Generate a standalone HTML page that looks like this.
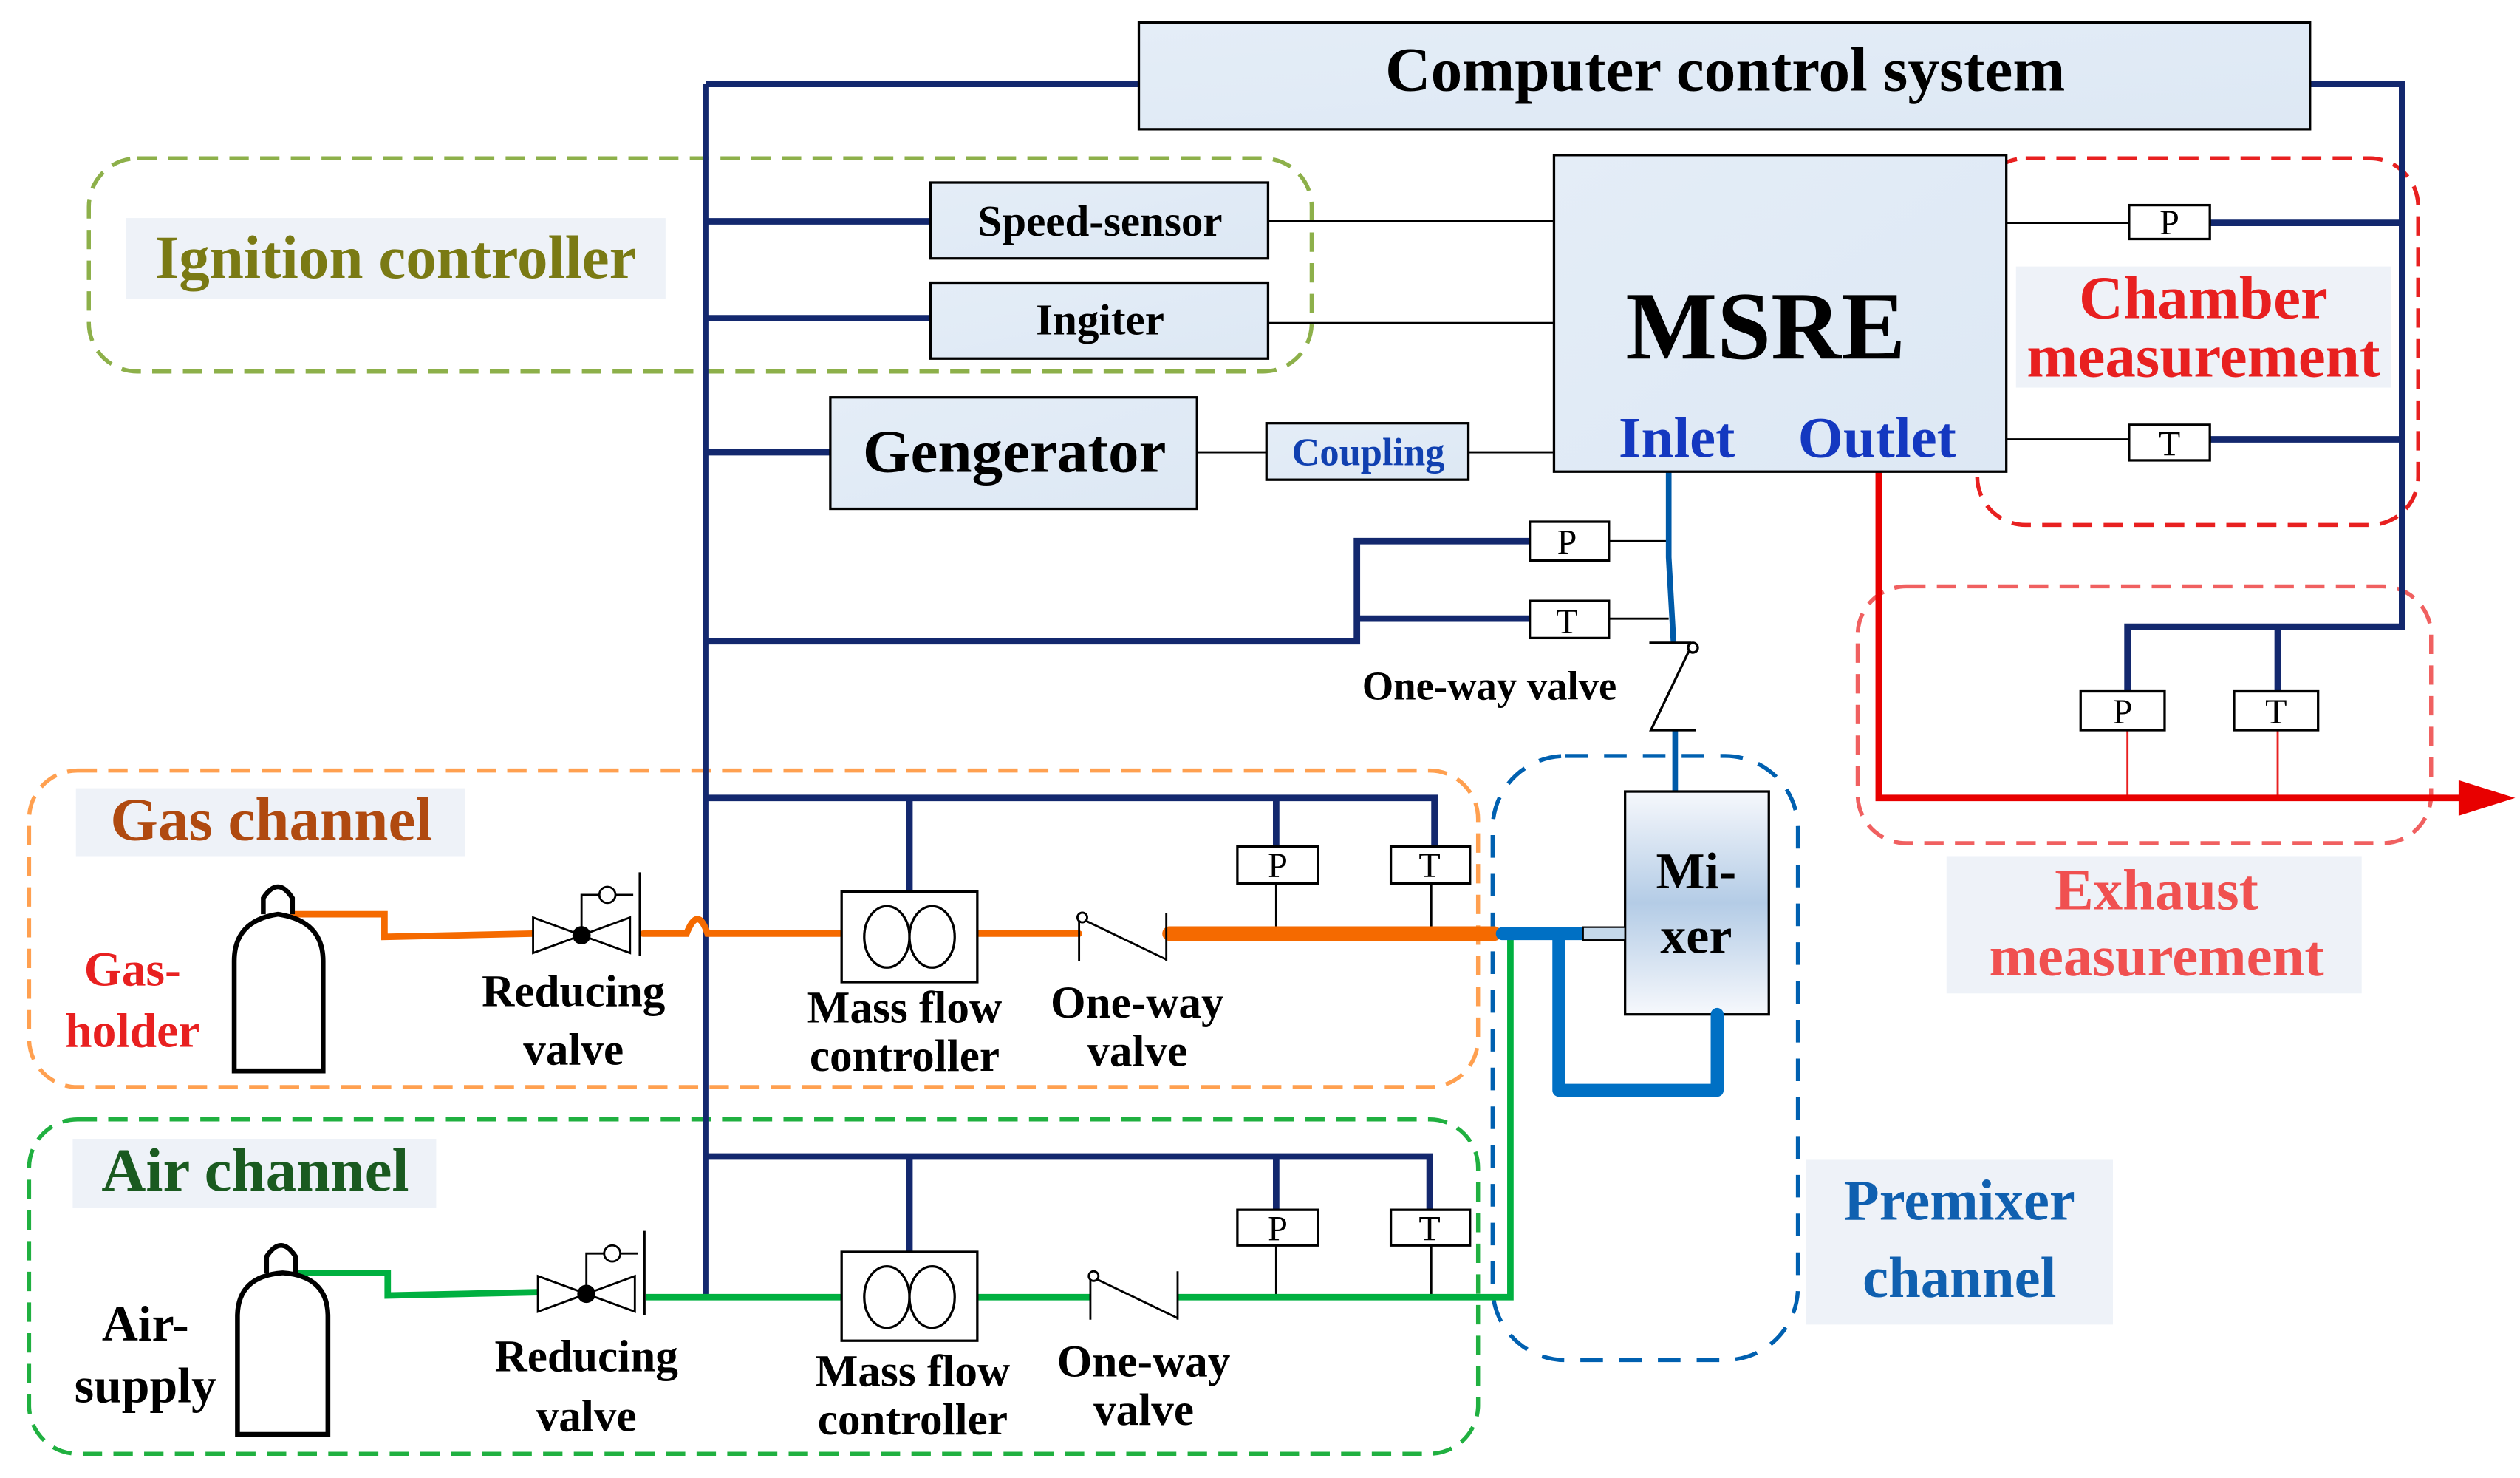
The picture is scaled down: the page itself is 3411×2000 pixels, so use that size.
<!DOCTYPE html>
<html><head><meta charset="utf-8"><style>
html,body{margin:0;padding:0;background:#fff;}
svg{display:block;}
text{font-family:"Liberation Serif",serif;font-weight:bold;}
</style></head><body>
<svg width="3411" height="2000" viewBox="0 0 1560 915" preserveAspectRatio="none" xmlns="http://www.w3.org/2000/svg">
<defs>
<linearGradient id="mx" x1="0" y1="0" x2="0" y2="1">
<stop offset="0" stop-color="#f6f8fc"/><stop offset="0.5" stop-color="#b4cce6"/><stop offset="1" stop-color="#f6f8fc"/>
</linearGradient>
<linearGradient id="bx" x1="0" y1="0" x2="1" y2="1">
<stop offset="0" stop-color="#e4edf7"/><stop offset="1" stop-color="#dde8f4"/>
</linearGradient>
</defs>
<g fill="none" stroke-linecap="butt">
<rect x="55" y="98" width="757" height="132" rx="30" stroke="#8db04a" stroke-width="2.5" stroke-dasharray="12,7"/>
<rect x="1224" y="98" width="273" height="227" rx="30" stroke="#e82020" stroke-width="2.5" stroke-dasharray="12,7"/>
<rect x="1150" y="363" width="355" height="159" rx="30" stroke="#f06060" stroke-width="2.5" stroke-dasharray="12,7"/>
<rect x="18" y="477" width="897" height="196" rx="30" stroke="#ffa050" stroke-width="2.5" stroke-dasharray="12,7"/>
<rect x="18" y="693" width="897" height="207" rx="30" stroke="#20b040" stroke-width="2.5" stroke-dasharray="12,7"/>
<rect x="924" y="468" width="189" height="374" rx="45" stroke="#0060b0" stroke-width="2.5" stroke-dasharray="14,10"/>
</g>
<g fill="#eef2f8">
<rect x="78" y="135" width="334" height="50"/>
<rect x="1248" y="165" width="232" height="75"/>
<rect x="1205" y="530" width="257" height="85"/>
<rect x="47" y="488" width="241" height="42"/>
<rect x="45" y="705" width="225" height="43"/>
<rect x="1118" y="718" width="190" height="102"/>
</g>
<g stroke="#13286e" stroke-width="4" fill="none">
<path d="M437 52 V803"/>
<path d="M437 52 H705"/>
<path d="M1430 52 H1487 V388 H1317 V428"/>
<path d="M1410 388 V428"/>
<path d="M1368 138 H1487"/>
<path d="M1368 272 H1487"/>
<path d="M437 137 H576"/>
<path d="M437 197 H576"/>
<path d="M437 280 H514"/>
<path d="M437 397 H840 V335 H947"/>
<path d="M840 383 H947"/>
<path d="M437 494 H888 V524"/>
<path d="M563 494 V552"/>
<path d="M790 494 V524"/>
<path d="M437 716 H885 V749"/>
<path d="M563 716 V775"/>
<path d="M790 716 V749"/>
</g>
<g stroke="#000" stroke-width="1.3" fill="none">
<path d="M785 137 H962"/><path d="M785 200 H962"/>
<path d="M741 280 H784"/><path d="M909 280 H962"/>
<path d="M1242 138 H1318"/><path d="M1242 272 H1318"/>
<path d="M996 335 H1033"/><path d="M996 383 H1033"/>
<path d="M790 547 V578"/><path d="M886 547 V578"/>
<path d="M790 771 V803"/><path d="M886 771 V803"/>
</g>
<g stroke="#e82020" stroke-width="1.3"><path d="M1317 452 V494"/><path d="M1410 452 V494"/></g>
<path d="M1163 292 V494 H1525" stroke="#e80000" stroke-width="4" fill="none"/>
<polygon points="1522,483 1557,494 1522,505" fill="#e80000"/>
<path d="M1033 292 V345 L1036 398" stroke="#005aa8" stroke-width="3.5" fill="none"/>
<path d="M1037 452 V490" stroke="#005aa8" stroke-width="3.5"/>
<g stroke="#000" stroke-width="1.5" fill="none">
<path d="M1021 398 H1047 M1047 400 L1022 452 H1050"/>
<circle cx="1048" cy="401" r="3" fill="#fff"/>
</g>
<g stroke="#000" stroke-width="1.5">
<rect x="705" y="14" width="725" height="66" fill="url(#bx)"/>
<rect x="576" y="113" width="209" height="47" fill="url(#bx)"/>
<rect x="576" y="175" width="209" height="47" fill="url(#bx)"/>
<rect x="514" y="246" width="227" height="69" fill="url(#bx)"/>
<rect x="784" y="262" width="125" height="35" fill="url(#bx)"/>
<rect x="962" y="96" width="280" height="196" fill="url(#bx)"/>
<rect x="1006" y="490" width="89" height="138" fill="url(#mx)"/>
</g>
<g stroke="#000" stroke-width="1.5" fill="#fff">
<rect x="1318" y="127" width="50" height="21"/>
<rect x="1318" y="263" width="50" height="22"/>
<rect x="947" y="323" width="49" height="24"/>
<rect x="947" y="372" width="49" height="23"/>
<rect x="1288" y="428" width="52" height="24"/>
<rect x="1383" y="428" width="52" height="24"/>
<rect x="766" y="524" width="50" height="23"/>
<rect x="861" y="524" width="49" height="23"/>
<rect x="766" y="749" width="50" height="22"/>
<rect x="861" y="749" width="49" height="22"/>
</g>
<g stroke="#f56a00" fill="none" stroke-linecap="round">
<path d="M180 566 H238 V580 L330 578" stroke-width="4"/>
<path d="M398 578 H425 Q432 560 438 578 H520" stroke-width="4"/>
<path d="M605 578 H668" stroke-width="4"/>
<path d="M724 578 H925" stroke-width="9"/>
</g>
<g stroke="#00b040" fill="none" stroke-width="4">
<path d="M180 788 H240 V802 L333 800"/>
<path d="M400 803 H521"/><path d="M605 803 H675"/><path d="M729 803 H935 V578"/>
</g>
<g stroke="#0070c4" fill="none" stroke-linecap="round" stroke-linejoin="round">
<path d="M930 578 H1000" stroke-width="8"/>
<path d="M965 580 V675 H1063 V628" stroke-width="8"/>
</g>
<rect x="980" y="574" width="26" height="8" fill="#c4d8ea" stroke="#000" stroke-width="1"/>
<g stroke="#000" stroke-width="3" fill="#fff">
<path d="M163 566 V556 Q172 542 181 556 V566"/>
<path d="M145 663 V595 Q145 570 172 566 Q200 570 200 595 V663 Z"/>
<path d="M165 788 V778 Q174 764 183 778 V788"/>
<path d="M147 888 V815 Q147 790 175 788 Q203 790 203 815 V888 Z"/>
</g>
<g stroke="#000" stroke-width="1.3" fill="#fff">
<polygon points="330,568 330,590 360,579"/><polygon points="390,568 390,590 360,579"/>
<path d="M360 579 V554 H392 M396 540 V592" fill="none"/>
<circle cx="376" cy="554" r="5"/>
<circle cx="360" cy="579" r="5" fill="#000"/>
<polygon points="333,790 333,812 363,801"/><polygon points="393,790 393,812 363,801"/>
<path d="M363 801 V776 H395 M399 762 V814" fill="none"/>
<circle cx="379" cy="776" r="5"/>
<circle cx="363" cy="801" r="5" fill="#000"/>
</g>
<g stroke="#000" stroke-width="1.5" fill="#fff">
<rect x="521" y="552" width="84" height="56"/>
<ellipse cx="549" cy="580" rx="14" ry="19"/><ellipse cx="577" cy="580" rx="14" ry="19"/>
<rect x="521" y="775" width="84" height="55"/>
<ellipse cx="549" cy="803" rx="14" ry="19"/><ellipse cx="577" cy="803" rx="14" ry="19"/>
</g>
<g stroke="#000" stroke-width="1.3" fill="none">
<path d="M668 568 V595 M670 569 L722 594 M722 565 V595"/>
<circle cx="670" cy="568" r="3" fill="#fff"/>
<path d="M675 790 V817 M677 791 L729 816 M729 787 V817"/>
<circle cx="677" cy="790" r="3" fill="#fff"/>
</g>
<g text-anchor="middle" fill="#000">
<text x="1068" y="56" font-size="39">Computer control system</text>
<text x="245" y="172" font-size="38" fill="#7a7a14">Ignition controller</text>
<text x="681" y="146" font-size="27">Speed-sensor</text>
<text x="681" y="207" font-size="27">Ingiter</text>
<text x="628" y="292" font-size="38">Gengerator</text>
<text x="847" y="288" font-size="24" fill="#1040b0">Coupling</text>
<text x="1093" y="222" font-size="60">MSRE</text>
<text x="1038" y="283" font-size="36" fill="#1438c0">Inlet</text>
<text x="1162" y="283" font-size="36" fill="#1438c0">Outlet</text>
<text x="1364" y="197" font-size="38" fill="#e82020">Chamber</text>
<text x="1364" y="233" font-size="38" fill="#e82020">measurement</text>
<text x="1335" y="563" font-size="36" fill="#f05050">Exhaust</text>
<text x="1335" y="604" font-size="36" fill="#f05050">measurement</text>
<text x="922" y="433" font-size="25">One-way valve</text>
<text x="168" y="520" font-size="38" fill="#b04a10">Gas channel</text>
<text x="158" y="737" font-size="38" fill="#1a5a20">Air channel</text>
<text x="82" y="610" font-size="30" fill="#e82020">Gas-</text>
<text x="82" y="648" font-size="30" fill="#e82020">holder</text>
<text x="90" y="830" font-size="31">Air-</text>
<text x="90" y="868" font-size="31">supply</text>
<text x="355" y="623" font-size="28">Reducing</text>
<text x="355" y="659" font-size="28">valve</text>
<text x="560" y="633" font-size="28">Mass flow</text>
<text x="560" y="663" font-size="28">controller</text>
<text x="704" y="630" font-size="28">One-way</text>
<text x="704" y="660" font-size="28">valve</text>
<text x="363" y="849" font-size="28">Reducing</text>
<text x="363" y="886" font-size="28">valve</text>
<text x="565" y="858" font-size="28">Mass flow</text>
<text x="565" y="888" font-size="28">controller</text>
<text x="708" y="852" font-size="28">One-way</text>
<text x="708" y="882" font-size="28">valve</text>
<text x="1050" y="550" font-size="32">Mi-</text>
<text x="1050" y="590" font-size="32">xer</text>
<text x="1213" y="755" font-size="36" fill="#1060b0">Premixer</text>
<text x="1213" y="803" font-size="36" fill="#1060b0">channel</text>
<g font-size="22">
<text x="1343" y="145" style="font-weight:normal">P</text>
<text x="1343" y="282" style="font-weight:normal">T</text>
<text x="970" y="343" style="font-weight:normal">P</text>
<text x="970" y="392" style="font-weight:normal">T</text>
<text x="1314" y="448" style="font-weight:normal">P</text>
<text x="1409" y="448" style="font-weight:normal">T</text>
<text x="791" y="543" style="font-weight:normal">P</text>
<text x="885" y="543" style="font-weight:normal">T</text>
<text x="791" y="768" style="font-weight:normal">P</text>
<text x="885" y="768" style="font-weight:normal">T</text>
</g>
</g>
</svg>
</body></html>
